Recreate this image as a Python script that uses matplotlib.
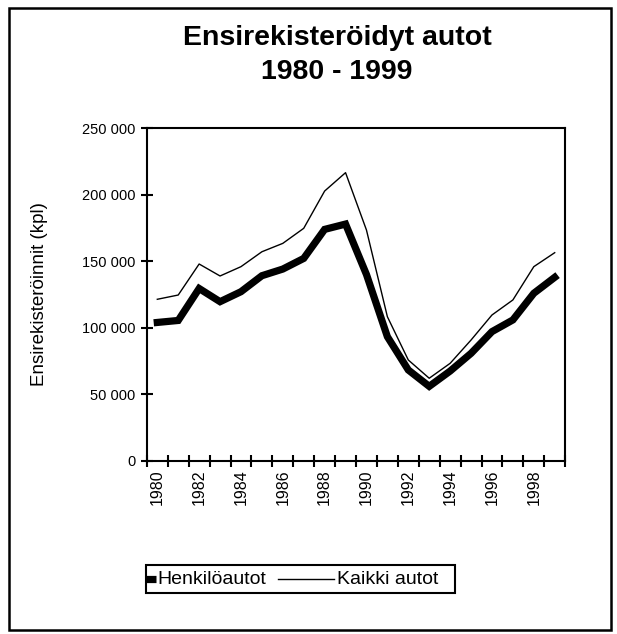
"""Ensirekisteröidyt autot 1980-1999 (henkilöautot ja kaikki autot)."""
import matplotlib; matplotlib.use("Agg")
import matplotlib.pyplot as plt
from matplotlib.lines import Line2D
from matplotlib.patches import Rectangle
from matplotlib.ticker import FuncFormatter, MultipleLocator

plt.rcParams.update({
    "font.family": ["Liberation Sans", "DejaVu Sans"],
    "font.size": 11, "text.color": "black",
    "axes.linewidth": 1.5,
})

W, H = 617, 634
years = list(range(1980, 2000))
# first registrations
henkiloautot = [104000, 105500, 129500, 119600, 127100, 139100, 144100, 152100, 173900, 177900,
                140000, 93300, 68300, 56000, 67500, 80800, 97100, 105900, 125900, 137900]
kaikki_autot = [121400, 124600, 147900, 138900, 145900, 157100, 163400, 174700, 202700, 216500,
                173400, 108300, 75800, 62100, 73300, 90800, 109600, 120900, 145900, 156400]
labels = ["Henkilöautot", "Kaikki autot"]

fig = plt.figure(figsize=(W / 100, H / 100), dpi=100)
ax = fig.add_axes([0.238, 0.273, 0.678, 0.525])

ax.plot(years, henkiloautot, color="black", lw=5.2, solid_joinstyle="miter")
ax.plot(years, kaikki_autot, color="black", lw=1.0)

ax.set_xlim(1979.5, 1999.5)
ax.set_ylim(0, 250000)
ax.set_xticks(years[::2])
ax.set_xticks([y + 0.5 for y in range(1979, 2000)], minor=True)
ax.tick_params(axis="x", which="major", length=0, pad=6, labelsize=11.5, rotation=90)
ax.tick_params(axis="x", which="minor", direction="inout", length=8, width=1.5)
ax.yaxis.set_major_locator(MultipleLocator(50000))
ax.yaxis.set_major_formatter(FuncFormatter(lambda v, p: f"{int(v):,}".replace(",", " ")))
ax.tick_params(axis="y", direction="inout", length=8, width=1.5, labelsize=10.5, pad=4)
ax.set_ylabel("Ensirekisteröinnit (kpl)", fontsize=13.5)
ax.yaxis.set_label_coords(-0.237, 0.5)

fig.text(337 / W, 1 - 55 / H, "Ensirekisteröidyt autot\n1980 - 1999", ha="center", va="center",
         fontsize=20.5, fontweight="bold", linespacing=1.42)

# legend drawn like the original: clipped thick stub, then thin line sample
px = lambda x, y: (x / W, 1 - y / H)
fig.patches.append(Rectangle(px(146, 593), 309 / W, 28 / H, transform=fig.transFigure,
                             fill=False, edgecolor="black", lw=1.5))
ly = 579
fig.lines.append(Line2D([146 / W, 156 / W], [px(0, ly)[1]] * 2, transform=fig.transFigure,
                        color="black", lw=5.2, solid_capstyle="butt"))
fig.text(*px(157, ly), labels[0], ha="left", va="center", fontsize=14)
fig.lines.append(Line2D([278 / W, 334 / W], [px(0, ly)[1]] * 2, transform=fig.transFigure,
                        color="black", lw=1.0))
fig.text(*px(337, ly), labels[1], ha="left", va="center", fontsize=14)

fig.patches.append(Rectangle(px(9, 630), 602 / W, 622 / H, transform=fig.transFigure,
                             fill=False, edgecolor="black", lw=1.8))

fig.savefig("out.png", dpi=100, facecolor="white")
